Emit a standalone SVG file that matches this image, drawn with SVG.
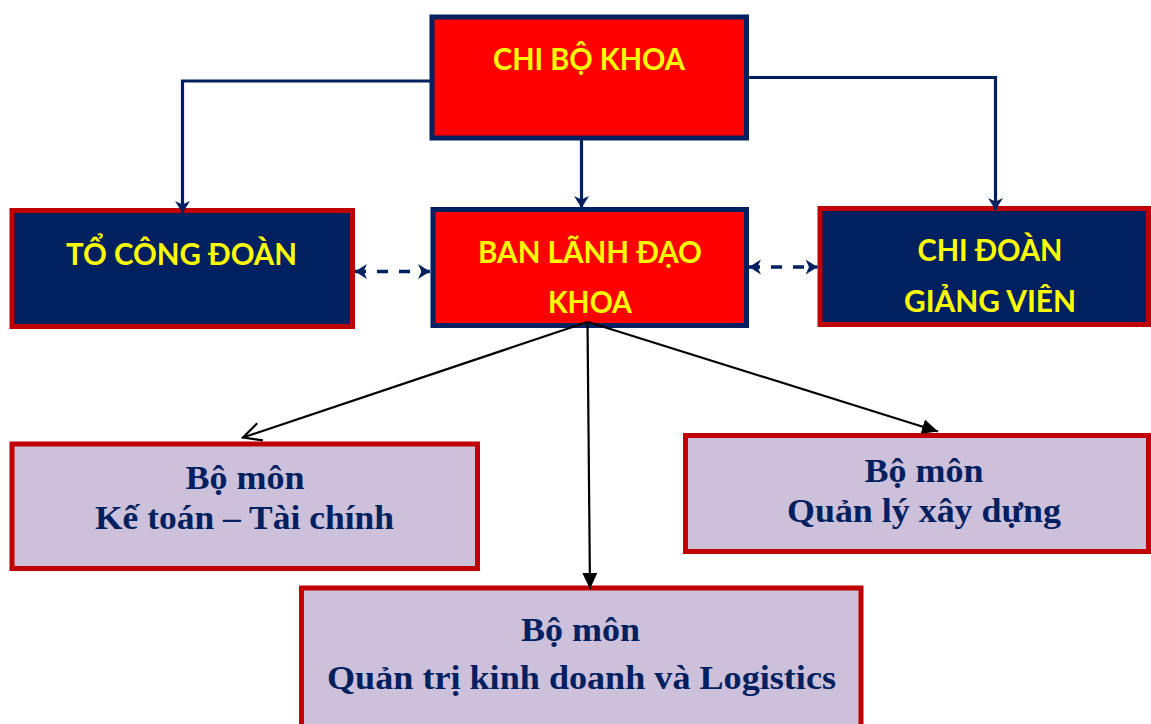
<svg xmlns="http://www.w3.org/2000/svg" width="1151" height="724" viewBox="0 0 1151 724">
<style>
.navybox{fill:#ff0000;stroke:#002060;stroke-width:5}
.bluebox{fill:#002060;stroke:#c00000;stroke-width:5}
.lavbox{fill:#ccc0da;stroke:#c00000;stroke-width:5}
.ttop{font-family:Lato,"Liberation Sans",sans-serif;font-weight:bold;font-size:30px;fill:#ffff00;text-anchor:middle}
.tbot{font-family:"Liberation Serif","DejaVu Serif",serif;font-weight:bold;font-size:34px;fill:#002060;text-anchor:middle}
.nav{fill:none;stroke:#002060;stroke-width:3.2}
.dash{fill:none;stroke:#002060;stroke-width:3.5;stroke-dasharray:11 11}
.blk{fill:none;stroke:#000;stroke-width:2.2}
</style>
<defs>
<marker id="stealth" viewBox="0 0 12 15" refX="12" refY="7.5" markerWidth="12" markerHeight="15" markerUnits="userSpaceOnUse" orient="auto-start-reverse">
<path d="M0,0 L12,7.5 L0,15 L3.5,7.5 z" fill="#002060"/>
</marker>
<marker id="openv" viewBox="-2 -2 22 22" refX="18" refY="9" markerWidth="22" markerHeight="22" markerUnits="userSpaceOnUse" orient="auto">
<path d="M0,0 L18,9 L0,18" fill="none" stroke="#000" stroke-width="2.2"/>
</marker>
<marker id="tri" viewBox="0 0 16 15" refX="16" refY="7.5" markerWidth="16" markerHeight="15" markerUnits="userSpaceOnUse" orient="auto">
<path d="M0,0 L16,7.5 L0,15 z" fill="#000"/>
</marker>
</defs>

<g id="chi-bo-khoa">
<rect class="navybox" x="432" y="17" width="314.5" height="121"/>
<text class="ttop" x="589" y="70" textLength="192" lengthAdjust="spacingAndGlyphs">CHI BỘ KHOA</text>
</g>

<g id="to-cong-doan">
<rect class="bluebox" x="12" y="210.5" width="340.5" height="116"/>
<text class="ttop" x="181.5" y="265" textLength="231" lengthAdjust="spacingAndGlyphs">TỔ CÔNG ĐOÀN</text>
</g>

<g id="ban-lanh-dao-khoa">
<rect class="navybox" x="433" y="209.5" width="313.5" height="116"/>
<text class="ttop" x="590" y="263" textLength="224" lengthAdjust="spacingAndGlyphs">BAN LÃNH ĐẠO</text>
<text class="ttop" x="590" y="313" textLength="84" lengthAdjust="spacingAndGlyphs">KHOA</text>
</g>

<g id="chi-doan-giang-vien">
<rect class="bluebox" x="820" y="208.5" width="328.5" height="116"/>
<text class="ttop" x="990" y="261" textLength="145" lengthAdjust="spacingAndGlyphs">CHI ĐOÀN</text>
<text class="ttop" x="990" y="312" textLength="172" lengthAdjust="spacingAndGlyphs">GIẢNG VIÊN</text>
</g>

<g id="bm-ke-toan">
<rect class="lavbox" x="12" y="444" width="465.5" height="124.5"/>
<text class="tbot" x="245" y="489" textLength="119" lengthAdjust="spacingAndGlyphs">Bộ môn</text>
<text class="tbot" x="244.5" y="529" textLength="299" lengthAdjust="spacingAndGlyphs">Kế toán – Tài chính</text>
</g>

<g id="bm-quan-ly-xay-dung">
<rect class="lavbox" x="685.5" y="435.5" width="463" height="116"/>
<text class="tbot" x="924" y="482" textLength="119" lengthAdjust="spacingAndGlyphs">Bộ môn</text>
<text class="tbot" x="924" y="522" textLength="274" lengthAdjust="spacingAndGlyphs">Quản lý xây dựng</text>
</g>

<g id="bm-qtkd-logistics">
<rect class="lavbox" x="301.5" y="588" width="559.5" height="150"/>
<text class="tbot" x="580.5" y="641" textLength="119" lengthAdjust="spacingAndGlyphs">Bộ môn</text>
<text class="tbot" x="581.5" y="689" textLength="509" lengthAdjust="spacingAndGlyphs">Quản trị kinh doanh và Logistics</text>
</g>

<g id="connectors">
<polyline class="nav" points="430,81 182.5,81 182.5,213" marker-end="url(#stealth)"/>
<polyline class="nav" points="749,77.5 995.5,77.5 995.5,210" marker-end="url(#stealth)"/>
<line class="nav" x1="581.5" y1="140" x2="581.5" y2="208" marker-end="url(#stealth)"/>
<line class="dash" x1="355" y1="271.5" x2="430" y2="271.5" marker-start="url(#stealth)" marker-end="url(#stealth)"/>
<line class="dash" x1="749" y1="267" x2="817.5" y2="267" marker-start="url(#stealth)" marker-end="url(#stealth)"/>
<line class="blk" x1="587.5" y1="322" x2="243" y2="437.5" marker-end="url(#openv)"/>
<line class="blk" x1="587.5" y1="322" x2="590" y2="589" marker-end="url(#tri)"/>
<line class="blk" x1="588" y1="322" x2="938" y2="431.5" marker-end="url(#tri)"/>
</g>
</svg>
